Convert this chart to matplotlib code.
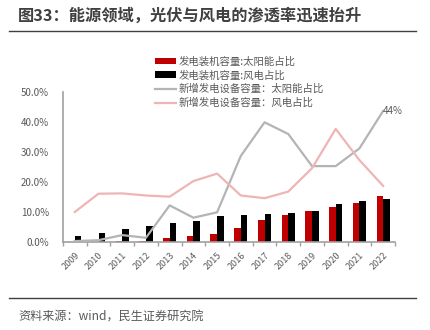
import numpy as np
import matplotlib.pyplot as plt
from matplotlib.patches import Patch
from matplotlib.lines import Line2D

plt.rcParams['font.family'] = ['Noto Sans CJK SC', 'DejaVu Sans']

years = ['2009', '2010', '2011', '2012', '2013', '2014', '2015', '2016',
         '2017', '2018', '2019', '2020', '2021', '2022']
# cumulative installed capacity share (%)
solar_cap = [0.1, 0.1, 0.2, 0.4, 1.3, 2.0, 2.8, 4.7, 7.3, 9.1, 10.2, 11.6, 12.9, 15.2]
wind_cap = [2.0, 3.1, 4.3, 5.4, 6.2, 7.0, 8.6, 8.9, 9.2, 9.7, 10.4, 12.8, 13.8, 14.3]
# newly added capacity share (%)
solar_new = [0.3, 0.6, 2.3, 1.4, 12.2, 8.1, 9.9, 28.7, 39.9, 36.0, 25.3, 25.3, 31.2, 43.7]
wind_new = [10.0, 16.1, 16.2, 15.5, 15.1, 20.3, 22.8, 15.5, 14.6, 16.8, 24.6, 37.7, 27.3, 18.7]

fig = plt.figure(figsize=(4.31, 3.30), dpi=100)
fig.patch.set_facecolor('white')

fig.text(0.042, 0.952, '图33：能源领域，光伏与风电的渗透率迅速抬升', fontsize=11.7,
         fontweight='bold', color='#404040', va='center', ha='left')
fig.add_artist(Line2D([0.021, 0.966], [0.906, 0.906], color='#404040', lw=1.0))
fig.add_artist(Line2D([0.021, 0.966], [0.097, 0.097], color='#404040', lw=1.0))
fig.text(0.042, 0.038, '资料来源：wind，民生证券研究院', fontsize=8.7,
         color='#595959', va='center', ha='left')

ax = fig.add_axes([0.146, 0.2667, 0.7705, 0.4545])
x = np.arange(len(years))
w = 0.28
ax.bar(x - w / 2, solar_cap, width=w, color='#C00000', zorder=2)
ax.bar(x + w / 2, wind_cap, width=w, color='#000000', zorder=2)
ax.plot(x, solar_new, color='#B4B4B4', lw=1.6, zorder=3)
ax.plot(x, wind_new, color='#EFB5B5', lw=1.6, zorder=3)

ax.text(x[-1], solar_new[-1], '%d%%' % round(solar_new[-1]), fontsize=7,
        color='#595959', ha='left', va='center')

ax.set_xlim(-0.5, len(years) - 0.5)
ax.set_ylim(0, 50)
ax.set_yticks([0, 10, 20, 30, 40, 50])
ax.set_yticklabels(['%.1f%%' % v for v in [0, 10, 20, 30, 40, 50]])
ax.set_xticks(x)
ax.set_xticklabels(years, rotation=45, ha='right', rotation_mode='anchor')
ax.set_xticks(np.arange(-0.5, len(years)), minor=True)
ax.tick_params(axis='x', which='major', length=0, labelsize=6.5,
               labelcolor='#595959', pad=6)
ax.tick_params(axis='x', which='minor', length=3, color='#A0A0A0', width=1)
ax.tick_params(axis='y', length=0, labelsize=7, labelcolor='#595959', pad=10)

for s in ['top', 'right']:
    ax.spines[s].set_visible(False)
ax.spines['left'].set_color('#A0A0A0')
ax.spines['left'].set_linewidth(1.2)
ax.spines['bottom'].set_color('#A0A0A0')
ax.spines['bottom'].set_linewidth(1.2)

handles = [
    Patch(facecolor='#C00000', edgecolor='none'),
    Patch(facecolor='#000000', edgecolor='none'),
    Line2D([0], [0], color='#B4B4B4', lw=1.6),
    Line2D([0], [0], color='#EFB5B5', lw=1.6),
]
labels = ['发电装机容量:太阳能占比', '发电装机容量:风电占比',
          '新增发电设备容量：太阳能占比', '新增发电设备容量：风电占比']
fig.legend(handles, labels, loc='upper left', bbox_to_anchor=(0.360, 0.830),
           frameon=False, fontsize=7.5, labelcolor='#595959',
           handlelength=2.0, handleheight=0.55, handletextpad=0.25,
           labelspacing=0.35, borderpad=0, borderaxespad=0)

fig.savefig('out.png', dpi=100, facecolor='white')
